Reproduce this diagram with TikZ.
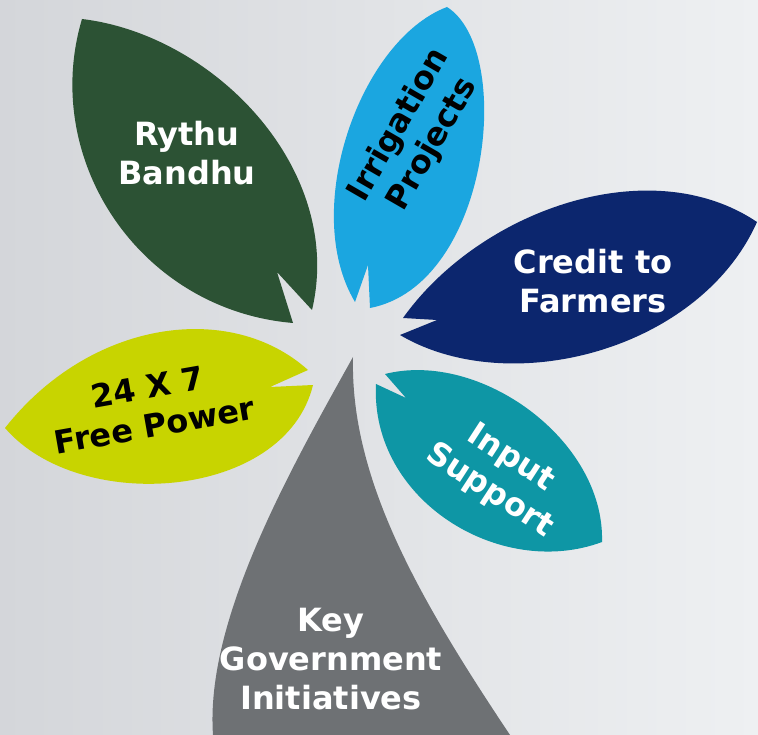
\documentclass[tikz,border=0pt]{standalone}
\usepackage{fontspec}
\setmainfont{DejaVu Sans}
\definecolor{bgleft}{HTML}{D4D6DA}
\definecolor{bgright}{HTML}{EEF0F2}
\definecolor{rythucol}{HTML}{2C5234}
\definecolor{irrigcol}{HTML}{1BA6E0}
\definecolor{creditcol}{HTML}{0C266E}
\definecolor{powercol}{HTML}{C8D400}
\definecolor{inputcol}{HTML}{0E96A5}
\definecolor{keycol}{HTML}{6E7174}

\begin{document}
\begin{tikzpicture}[x=1pt, y=-1pt,
 lbl/.style={align=center, font=\fontsize{32}{39}\selectfont\bfseries, inner sep=0pt},
 whitelbl/.style={lbl, text=white},
 blacklbl/.style={lbl, text=black}]

 \useasboundingbox (0,0) rectangle (758,735);
 \fill[left color=bgleft, right color=bgright] (0,0) rectangle (758,735);

 % leaves
 \fill[rythucol] (82,19) .. controls (215,35) and (345,170) .. (312,310)
   -- (277,272) -- (293,323) .. controls (140,310) and (40,160) .. cycle;
 \fill[irrigcol] (447,7) .. controls (360,40) and (300,210) .. (355,302)
   -- (368,265) -- (370,308) .. controls (490,285) and (515,50) .. cycle;
 \fill[creditcol] (757,222) .. controls (650,150) and (480,210) .. (403,318)
   -- (437,320) -- (400,335) .. controls (510,400) and (700,350) .. cycle;
 \fill[powercol] (5,428) .. controls (90,320) and (230,300) .. (308,370)
   -- (270,387) -- (313,385) .. controls (285,500) and (80,515) .. cycle;
 \fill[inputcol] (602,542) .. controls (605,440) and (480,350) .. (385,374)
   -- (406,398) -- (376,384) .. controls (370,500) and (500,580) .. cycle;
 \fill[keycol] (353,357) .. controls (290,470) and (205,620) .. (213,735)
   -- (510,735) .. controls (420,600) and (350,480) .. cycle;

 % labels
 \node[whitelbl] (rythu) at (187,153) {Rythu\\Bandhu};
 \node[blacklbl, rotate=60] (irrig) at (416,135) {Irrigation\\Projects};
 \node[whitelbl] (credit) at (593,281) {Credit to\\Farmers};
 \node[blacklbl, rotate=10] (power) at (151,406) {24 X 7\\Free Power};
 \node[whitelbl, rotate=-33] (input) at (500,475) {Input\\Support};
 \node[whitelbl] (key) at (331,659) {Key\\Government\\Initiatives};
\end{tikzpicture}
\end{document}
